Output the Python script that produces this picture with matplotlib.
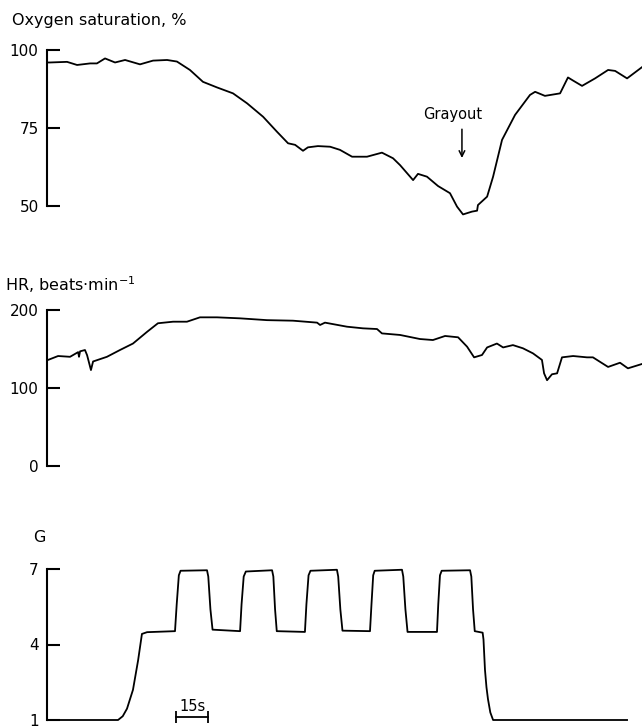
import matplotlib
matplotlib.use('Agg')
import matplotlib.pyplot as plt
import numpy as np

plt.rcParams['font.family'] = ['DejaVu Sans']

# time axis in seconds (15 s bar for scale)
o2_t = [0, 1.4, 9.4, 14.1, 20.2, 23.4, 27.2, 31.9, 36.6, 43.6, 49.7, 56.3, 60.9, 67.0, 73.1,
        79.7, 87.2, 93.8, 101.3, 107.8, 113.0, 116.3, 120.0, 122.3, 127.0, 132.7, 137.3, 143.0,
        150.0, 157.0, 162.2, 165.5, 171.6, 173.9, 178.1, 183.3, 188.9, 192.2, 195.0, 199.2,
        201.6, 202.0, 206.3, 209.1, 213.3, 219.4, 226.4, 228.8, 233.4, 240.5, 244.2, 246.6,
        250.8, 256.9, 263.0, 266.3, 271.9, 278.9]
o2_sat = [96.0, 96.0, 96.2, 95.2, 95.7, 95.7, 97.3, 96.0, 96.8, 95.4, 96.6, 96.8, 96.3, 93.6, 89.8,
          88.0, 86.1, 82.9, 78.6, 73.8, 70.1, 69.6, 67.7, 68.8, 69.2, 69.0, 68.0, 65.8,
          65.8, 67.1, 65.3, 63.1, 58.3, 60.3, 59.4, 56.4, 54.1, 49.8, 47.3, 48.2,
          48.5, 50.3, 53.0, 59.4, 71.2, 79.2, 85.6, 86.6, 85.3, 86.1, 91.2, 90.2,
          88.5, 90.9, 93.6, 93.3, 90.9, 94.5]

hr_t = [0, 0.5, 5.2, 10.8, 14.6, 15.0, 15.5, 17.8, 18.8, 20.6, 21.6, 28.1, 34.2, 40.3, 46.9,
        52.0, 59.1, 65.6, 71.7, 79.7, 90.5, 103.1, 115.3, 126.6, 128.0, 130.3, 140.6, 148.1,
        154.7, 157.0, 165.5, 174.8, 180.9, 186.6, 192.7, 196.9, 200.2, 203.9, 206.3, 210.9,
        213.8, 218.4, 223.1, 227.8, 232.0, 233.0, 234.4, 236.7, 239.1, 241.4, 246.6, 253.1,
        255.9, 263.0, 268.6, 272.3, 278.9]
hr = [136, 136, 141, 140, 146, 140, 147, 148.7, 142, 123, 134, 140, 148.7, 157, 172,
      183, 185, 185, 190.6, 190.6, 189.3, 187, 186.3, 183.8, 180.8, 183.8, 178.6, 176.5,
      175.6, 170, 168, 162.8, 161.5, 166.7, 165, 153, 139.3, 142.3, 152, 157,
      152, 155, 150.9, 144.4, 136, 118.8, 110, 117.6, 118.8, 139.3, 141, 139.3,
      139.3, 127, 132.4, 125.2, 130.8]

g_t = [0, 33.3, 35.5, 37.5, 40.3, 42.7, 44.5, 46.9, 60.0, 60.8, 61.8, 62.6, 75.0, 75.6, 76.6, 77.6,
       90.5, 91.2, 92.2, 93.2, 105.5, 106.1, 106.9, 107.7, 120.9, 121.6, 122.6, 123.5,
       135.9, 136.5, 137.5, 138.5, 151.4, 152.1, 152.9, 153.6, 166.4, 167.0, 168.0, 169.0,
       182.8, 183.4, 184.2, 185.0, 198.3, 198.9, 199.7, 200.5, 204.2, 204.6, 205.3, 206.0,
       206.7, 207.8, 209.1, 271.9]
g = [1.0, 1.0, 1.15, 1.45, 2.2, 3.37, 4.42, 4.49, 4.53, 5.6, 6.75, 6.93, 6.95, 6.7, 5.4, 4.59,
     4.53, 5.6, 6.7, 6.9, 6.95, 6.7, 5.4, 4.53, 4.5, 5.6, 6.75, 6.93,
     6.97, 6.7, 5.4, 4.55, 4.53, 5.6, 6.75, 6.93, 6.97, 6.7, 5.4, 4.5,
     4.5, 5.6, 6.75, 6.93, 6.95, 6.7, 5.4, 4.53, 4.47, 4.2, 2.99, 2.3,
     1.83, 1.3, 1.0, 1.0]

fig = plt.figure(figsize=(6.42, 7.28), dpi=100)
W, H = 642.0, 728.0
left = 47 / W
width = 595 / W
t_max = 278.9


def make_axes(top_px, h_px, lo, hi, ticks):
    ax = fig.add_axes([left, (H - top_px - h_px) / H, width, h_px / H])
    ax.set_xlim(0, t_max)
    ax.set_ylim(lo, hi)
    for s in ['top', 'right', 'bottom']:
        ax.spines[s].set_visible(False)
    ax.spines['left'].set_linewidth(1.5)
    ax.spines['left'].set_bounds(lo, hi)
    ax.set_xticks([])
    ax.set_yticks(ticks)
    ax.tick_params(axis='y', direction='in', length=9, width=1.5, pad=6, labelsize=11)
    ax.patch.set_visible(False)
    return ax


ax1 = make_axes(50, 156, 50, 100, [50, 75, 100])
ax1.plot(o2_t, o2_sat, color='black', lw=1.3, clip_on=False)
ax1.text(190.3, 79.2, 'Grayout', ha='center', va='center', fontsize=10.5)
ax1.annotate('', xy=(194.5, 64.5), xytext=(194.5, 75.5),
             arrowprops=dict(arrowstyle='->', lw=1.1, color='black'))

ax2 = make_axes(310, 156, 0, 200, [0, 100, 200])
ax2.plot(hr_t, hr, color='black', lw=1.3, clip_on=False)

ax3 = make_axes(569, 151, 1, 7, [1, 4, 7])
ax3.plot(g_t, g, color='black', lw=1.3, clip_on=False)
ax3.plot([60.5, 75.5], [1.13, 1.13], color='black', lw=1.3, clip_on=False)
ax3.plot([60.5, 75.5], [1.13, 1.13], ls='none', marker='|', ms=8, mew=1.3,
         color='black', clip_on=False)
ax3.text(68, 1.22, '15s', ha='center', va='bottom', fontsize=10.5)

fig.text(12 / W, 1 - 20 / H, 'Oxygen saturation, %', ha='left', va='center', fontsize=11.5)
fig.text(5 / W, 1 - 285 / H, 'HR, beats$\\cdot$min$^{-1}$', ha='left', va='center', fontsize=11.5)
fig.text(33 / W, 1 - 537 / H, 'G', ha='left', va='center', fontsize=11.5)

fig.savefig('out.png', dpi=100)
